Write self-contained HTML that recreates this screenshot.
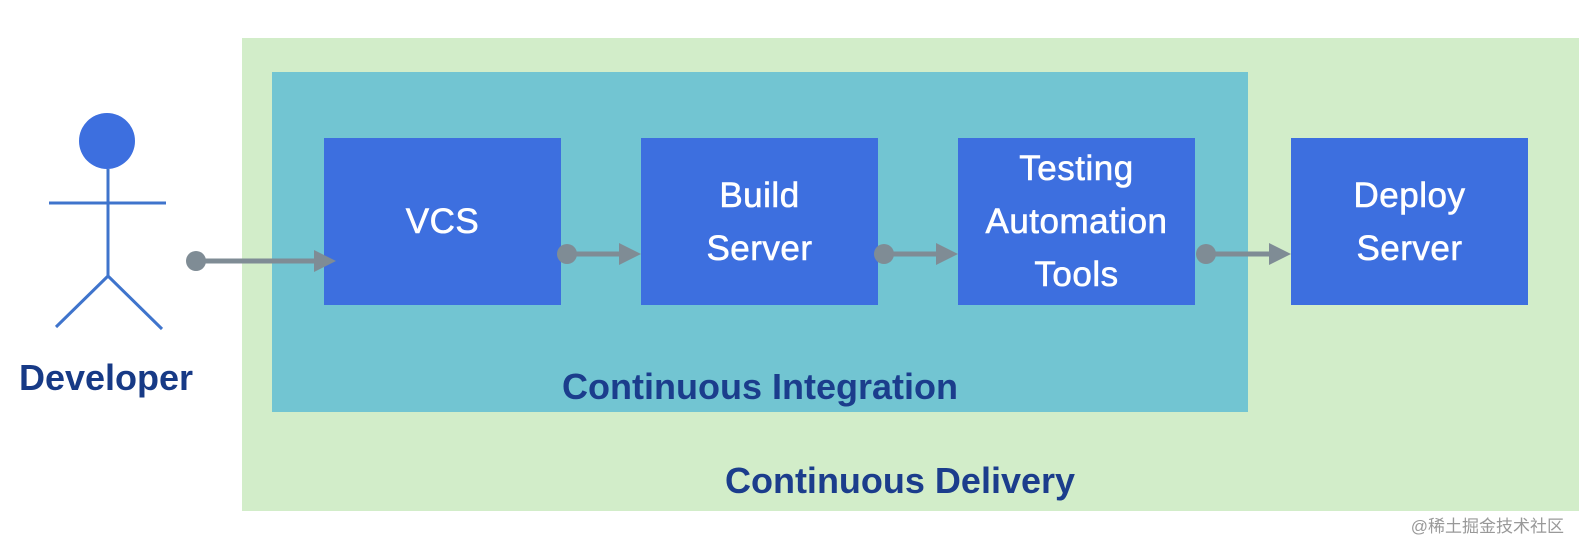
<!DOCTYPE html>
<html><head><style>
body{margin:0;width:1586px;height:541px;background:#fff;position:relative;overflow:hidden;font-family:"Liberation Sans",sans-serif}
.a{position:absolute}
.box{position:absolute;background:#3d6fdf;color:#fff;font-size:35px;display:flex;align-items:center;justify-content:center;text-align:center;line-height:53px;top:138px;width:237px;height:167px;-webkit-text-stroke:0.6px #fff;letter-spacing:0.5px}
.lbl{position:absolute;color:#1b3d8c;font-weight:bold;white-space:nowrap;transform:translateX(-50%);line-height:40px}
</style></head><body>
<div class="a" style="left:242px;top:38px;width:1337px;height:473px;background:#d2edc9"></div>
<div class="a" style="left:272px;top:72px;width:976px;height:340px;background:#72c5d2"></div>
<div class="box" style="left:324px">VCS</div>
<div class="box" style="left:641px">Build<br>Server</div>
<div class="box" style="left:958px">Testing<br>Automation<br>Tools</div>
<div class="box" style="left:1291px">Deploy<br>Server</div>
<div class="lbl" style="left:760px;top:367px;font-size:36px">Continuous Integration</div>
<div class="lbl" style="left:900px;top:461px;font-size:36px">Continuous Delivery</div>
<div class="lbl" style="left:106px;top:358px;font-size:36px;color:#173a86">Developer</div>
<div class="a" style="right:22px;top:512px;font-size:17px;color:#999;font-family:'Liberation Sans','Noto Sans CJK SC',sans-serif">@稀土掘金技术社区</div>
<svg class="a" style="left:0;top:0" width="1586" height="541">
<g stroke="#3f74cc" stroke-width="3" fill="none">
<line x1="108" y1="169" x2="108" y2="276"/>
<line x1="49" y1="203" x2="166" y2="203"/>
<line x1="108" y1="276" x2="56" y2="327"/>
<line x1="108" y1="276" x2="162" y2="329"/>
</g>
<circle cx="107" cy="141" r="28" fill="#3d6fdf"/>
<g fill="#7f8c95" stroke="#7f8c95">
<circle cx="196" cy="261" r="10" stroke="none"/><line x1="196" y1="261" x2="320" y2="261" stroke-width="5"/><polygon points="314,250 336,261 314,272" stroke="none"/>
<circle cx="567" cy="254" r="10" stroke="none"/><line x1="567" y1="254" x2="625" y2="254" stroke-width="5"/><polygon points="619,243 641,254 619,265" stroke="none"/>
<circle cx="884" cy="254" r="10" stroke="none"/><line x1="884" y1="254" x2="942" y2="254" stroke-width="5"/><polygon points="936,243 958,254 936,265" stroke="none"/>
<circle cx="1206" cy="254" r="10" stroke="none"/><line x1="1206" y1="254" x2="1275" y2="254" stroke-width="5"/><polygon points="1269,243 1291,254 1269,265" stroke="none"/>
</g>
</svg>
</body></html>
